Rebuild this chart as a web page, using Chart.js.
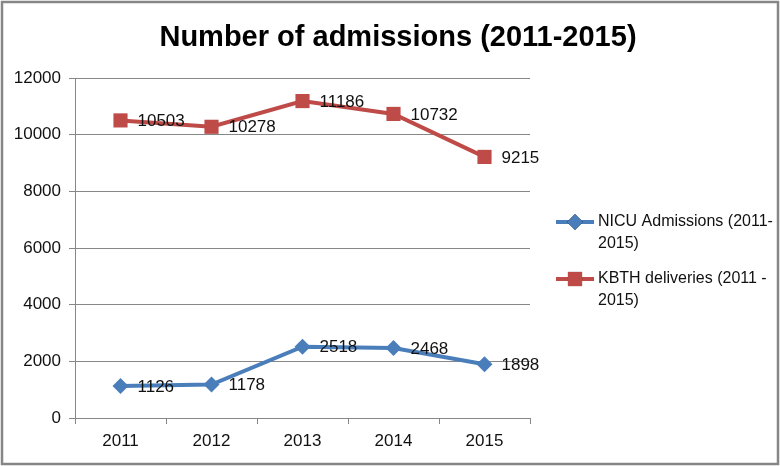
<!DOCTYPE html>
<html>
<head>
<meta charset="utf-8">
<script src="https://cdn.jsdelivr.net/npm/chart.js@4/dist/chart.umd.min.js"></script>
<style>
  html, body { margin: 0; padding: 0; background: #fff; }
  #wrap { width: 780px; height: 466px; }
</style>
</head>
<body>
<div id="wrap"><canvas id="myChart" width="780" height="466"></canvas></div>
<script>
const years = ["2011", "2012", "2013", "2014", "2015"];
const nicuAdmissions = [1126, 1178, 2518, 2468, 1898];
const kbthDeliveries = [10503, 10278, 11186, 10732, 9215];
const seriesNames = [
  ["NICU Admissions (2011-", "2015)"],
  ["KBTH deliveries (2011 -", "2015)"],
];
const chartTitle = "Number of admissions (2011-2015)";

const BLUE = "#4A7EBB";
const RED = "#BE4B48";
const GRID = "#878787";
const FONT = "'Liberation Sans', Arial, sans-serif";

// white background + grey frame round the whole chart
const framePlugin = {
  id: "frame",
  beforeDraw(chart) {
    const { ctx, width, height } = chart;
    ctx.save();
    ctx.fillStyle = "#fff";
    ctx.fillRect(0, 0, width, height);
    ctx.strokeStyle = "#868686";
    ctx.lineWidth = 2.5;
    ctx.strokeRect(2, 2, width - 4, height - 4);
    ctx.restore();
  },
};

// title, centred a little right of the canvas middle like the original
const titlePlugin = {
  id: "bigTitle",
  afterDraw(chart) {
    const { ctx } = chart;
    ctx.save();
    ctx.font = "bold 29px " + FONT;
    ctx.fillStyle = "#000";
    ctx.textAlign = "center";
    ctx.textBaseline = "middle";
    ctx.fillText(chartTitle, 398, 38);
    ctx.restore();
  },
};

// value labels to the right of each point
const valueLabels = {
  id: "valueLabels",
  afterDatasetsDraw(chart) {
    const { ctx } = chart;
    ctx.save();
    ctx.font = "17px " + FONT;
    ctx.fillStyle = "#111";
    ctx.textAlign = "left";
    ctx.textBaseline = "middle";
    chart.data.datasets.forEach((ds, i) => {
      const meta = chart.getDatasetMeta(i);
      meta.data.forEach((pt, j) => {
        ctx.fillText(String(ds.data[j]), pt.x + 17, pt.y + 1);
      });
    });
    ctx.restore();
  },
};

// legend on the right with wrapped text
const sideLegend = {
  id: "sideLegend",
  afterDraw(chart) {
    const { ctx } = chart;
    const rows = [222, 279];
    ctx.save();
    chart.data.datasets.forEach((ds, i) => {
      const y = rows[i];
      ctx.strokeStyle = ds.borderColor;
      ctx.lineWidth = 4;
      ctx.beginPath();
      ctx.moveTo(556, y);
      ctx.lineTo(594, y);
      ctx.stroke();
      Chart.helpers.drawPoint(ctx, {
        pointStyle: ds.pointStyle,
        radius: ds.pointRadius,
        borderWidth: 0,
      }, 575, y);
      ctx.fillStyle = ds.borderColor;
      ctx.fill();
      ctx.font = "16px " + FONT;
      ctx.fillStyle = "#111";
      ctx.textAlign = "left";
      ctx.textBaseline = "middle";
      seriesNames[i].forEach((line, k) => {
        ctx.fillText(line, 598, y + k * 22);
      });
    });
    ctx.restore();
  },
};

const ctx = document.getElementById("myChart").getContext("2d");

const myChart = new Chart(ctx, {
  type: "line",
  data: {
    labels: years,
    datasets: [
      {
        label: seriesNames[0].join(""),
        data: nicuAdmissions,
        borderColor: BLUE,
        backgroundColor: BLUE,
        borderWidth: 4,
        pointStyle: "rectRot",
        pointRadius: 8,
        pointBorderWidth: 0,
        tension: 0,
      },
      {
        label: seriesNames[1].join(""),
        data: kbthDeliveries,
        borderColor: RED,
        backgroundColor: RED,
        borderWidth: 4,
        pointStyle: "rect",
        pointRadius: 10,
        pointBorderWidth: 0,
        tension: 0,
      },
    ],
  },
  options: {
    responsive: false,
    animation: false,
    layout: {
      padding: { top: 78, right: 250, left: 0, bottom: 0 },
    },
    scales: {
      x: {
        offset: true,
        grid: {
          offset: true,
          drawOnChartArea: false,
          tickLength: 6,
          color: GRID,
        },
        border: { color: GRID, width: 1 },
        ticks: {
          padding: 7,
          color: "#111",
          font: { family: FONT, size: 17 },
        },
        afterFit(scale) {
          scale.height = 48;
        },
      },
      y: {
        min: 0,
        max: 12000,
        ticks: {
          stepSize: 2000,
          padding: 8,
          color: "#111",
          font: { family: FONT, size: 17 },
          callback: (value) => String(value),
        },
        grid: { color: GRID, tickLength: 6 },
        border: { color: GRID, width: 1 },
        afterFit(scale) {
          scale.width = 75;
        },
      },
    },
    plugins: {
      legend: { display: false },
      title: { display: false },
      tooltip: { enabled: false },
    },
  },
  plugins: [framePlugin, titlePlugin, valueLabels, sideLegend],
});
</script>
</body>
</html>
